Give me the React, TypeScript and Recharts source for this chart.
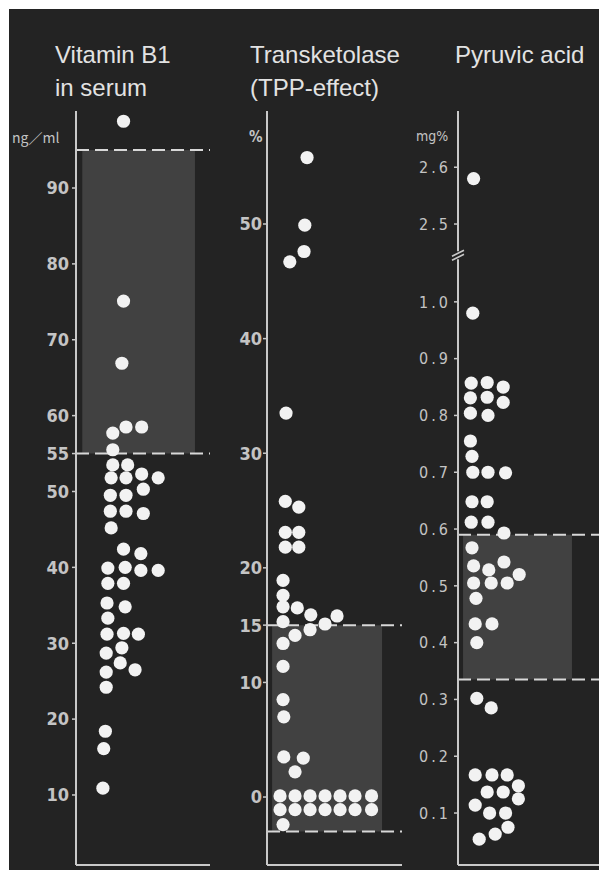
import {
  ScatterChart,
  Scatter,
  XAxis,
  YAxis,
  ReferenceArea,
  ReferenceLine,
  ReferenceDot,
} from "recharts";

// Vitamin B1 in serum (ng/ml)
const B1_VALUES = [
  98.8, 75.1, 66.9, 58.5, 58.5, 57.7, 55.5, 53.5, 53.5, 52.3, 51.8, 51.8, 51.8, 50.3, 49.5,
  49.5, 47.4, 47.4, 47.1, 45.2, 42.4, 41.8, 40.0, 39.9, 39.6, 39.6, 37.9, 37.9, 35.3, 34.8,
  33.3, 31.3, 31.2, 31.2, 29.4, 28.7, 27.4, 26.5, 26.2, 24.2, 18.4, 16.1, 10.9,
];
const B1_COLUMNS = [
  1, 1, 0.9, 1.15, 2.1, 0.35, 0.35, 0.35, 1.25, 2.1, 0.25, 1.15, 3.1, 2.2, 0.2,
  1.15, 0.2, 1.15, 2.2, 0.25, 1, 2.05, 1.1, 0.05, 2.05, 3.1, 0.05, 1, 0, 1.1,
  0.05, 1, 0, 1.9, 0.9, -0.05, 0.8, 1.7, -0.05, -0.05, -0.1, -0.2, -0.25,
];
const B1_TICKS = [10, 20, 30, 40, 50, 55, 60, 70, 80, 90];
const B1_NORMAL = [55, 95];

// Transketolase, TPP-effect (%)
const TK_VALUES = [
  55.8, 49.9, 47.6, 46.7, 33.5, 25.8, 25.3, 23.1, 23.1, 21.8, 21.8, 18.9, 17.6, 16.6, 16.5,
  15.9, 15.8, 15.3, 15.1, 14.6, 14.1, 13.4, 11.4, 8.5, 7.0, 3.5, 3.4, 2.2,
  0.1, 0.1, 0.1, 0.1, 0.1, 0.1, 0.1,
  -1.1, -1.1, -1.1, -1.1, -1.1, -1.1, -1.1,
  -2.4,
];
const TK_COLUMNS = [
  1.6, 1.45, 1.4, 0.45, 0.2, 0.15, 1.05, 0.15, 1.05, 0.15, 1.05, 0, 0, 0, 0.95,
  1.85, 3.6, 0, 2.8, 1.8, 0.8, 0, 0, 0, 0.05, 0.05, 1.35, 0.8,
  -0.2, 0.8, 1.8, 2.8, 3.8, 4.8, 5.9,
  -0.2, 0.8, 1.8, 2.8, 3.8, 4.8, 5.9,
  0,
];
const TK_TICKS = [0, 10, 15, 20, 30, 40, 50];
const TK_NORMAL = [-3, 15];

// Pyruvic acid (mg%)
const PY_VALUES = [
  2.58, 0.98, 0.857, 0.858, 0.85, 0.831, 0.832, 0.823, 0.804, 0.8, 0.755, 0.728, 0.7, 0.7, 0.699,
  0.648, 0.648, 0.612, 0.612, 0.593, 0.567, 0.542, 0.535, 0.528, 0.52, 0.505, 0.505, 0.505,
  0.478, 0.433, 0.433, 0.4, 0.302, 0.285, 0.167, 0.167, 0.167, 0.148, 0.137, 0.137, 0.125,
  0.114, 0.1, 0.1, 0.075, 0.063, 0.054,
];
const PY_COLUMNS = [
  0.1, 0.05, -0.05, 0.95, 1.95, -0.1, 0.95, 1.95, -0.1, 1, -0.1, 0, 0.05, 1, 2.1,
  0, 0.95, -0.05, 1, 2, 0, 2, 0.1, 1.05, 2.95, 0.1, 1.2, 2.2,
  0.25, 0.2, 1.25, 0.3, 0.3, 1.2, 0.2, 1.25, 2.2, 2.9, 0.95, 1.95, 2.9,
  0.2, 1.1, 2.1, 2.25, 1.45, 0.45,
];
const PY_TICKS = [0.1, 0.2, 0.3, 0.4, 0.5, 0.6, 0.7, 0.8, 0.9, 1.0, 2.5, 2.6];
const PY_NORMAL = [0.335, 0.59];
const PY_BREAK_AT = 2;
const PY_BREAK_SHIFT = 1.363;

const BG = "#232323";
const AXIS = "#c9c9c9";
const TICK_TEXT = "#c4c4c4";
const DOT = "#f2f2f2";
const BOX = "#414141";
const DASH = "#d8d8d8";
const TICK_FONT = "'DejaVu Sans Condensed', 'DejaVu Sans', sans-serif";
const TITLE_FONT = "'Liberation Sans', Arial, sans-serif";

function toPoints(values: number[], cols: number[], shift?: (v: number) => number) {
  return values.map((v, i) => ({ x: cols[i], y: shift ? shift(v) : v }));
}

const pyShift = (v: number) => (v > PY_BREAK_AT ? v - PY_BREAK_SHIFT : v);
const pyUnshift = (v: number) => (v > 1.1 ? v + PY_BREAK_SHIFT : v);

const Dot = (p: any) => <circle cx={p.cx} cy={p.cy} r={6.6} fill={DOT} />;

const BreakMark = (p: any) => (
  <g>
    <rect x={p.cx - 3} y={p.cy - 4} width={6} height={8} fill={BG} />
    <line x1={p.cx - 6} y1={p.cy + 1} x2={p.cx + 6} y2={p.cy - 5} stroke={AXIS} strokeWidth={1.6} />
    <line x1={p.cx - 6} y1={p.cy + 5} x2={p.cx + 6} y2={p.cy - 1} stroke={AXIS} strokeWidth={1.6} />
  </g>
);

type PanelProps = {
  left: number;
  width: number;
  right: number;
  data: { x: number; y: number }[];
  xDomain: [number, number];
  yDomain: [number, number];
  ticks: number[];
  normal: number[];
  box: [number, number];
  tickMargin: number;
  tickFontSize: number;
  tickWeight: number;
  letterSpacing?: number;
  format?: (v: number) => string;
  breakY?: number;
};

function Panel(p: PanelProps) {
  return (
    <div style={{ position: "absolute", left: p.left, top: 0 }}>
      <ScatterChart width={p.width} height={870} margin={{ top: 111, right: p.right, bottom: 4, left: 0 }}>
        <XAxis
          type="number"
          dataKey="x"
          domain={p.xDomain}
          allowDataOverflow
          tick={false}
          tickLine={false}
          height={1}
          axisLine={{ stroke: AXIS, strokeWidth: 2 }}
        />
        <YAxis
          type="number"
          dataKey="y"
          domain={p.yDomain}
          allowDataOverflow
          ticks={p.ticks}
          interval={0}
          width={76}
          tickSize={4}
          tickMargin={p.tickMargin}
          tickFormatter={p.format}
          axisLine={{ stroke: AXIS, strokeWidth: 2 }}
          tickLine={{ stroke: AXIS, strokeWidth: 1.5 }}
          tick={{
            fill: TICK_TEXT,
            fontSize: p.tickFontSize,
            fontFamily: TICK_FONT,
            fontWeight: p.tickWeight,
            letterSpacing: p.letterSpacing ?? 0,
          }}
        />
        <ReferenceArea
          x1={p.box[0]}
          x2={p.box[1]}
          y1={p.normal[0]}
          y2={p.normal[1]}
          fill={BOX}
          fillOpacity={1}
          stroke="none"
        />
        <ReferenceLine y={p.normal[0]} stroke={DASH} strokeWidth={2} strokeDasharray="13 6" />
        <ReferenceLine y={p.normal[1]} stroke={DASH} strokeWidth={2} strokeDasharray="13 6" />
        {p.breakY !== undefined && (
          <ReferenceDot x={p.xDomain[0]} y={p.breakY} shape={BreakMark} />
        )}
        <Scatter data={p.data} shape={Dot} isAnimationActive={false} />
      </ScatterChart>
    </div>
  );
}

const titleStyle: React.CSSProperties = {
  position: "absolute",
  top: 38,
  color: "#e2e2e2",
  fontFamily: TITLE_FONT,
  fontSize: 24,
  lineHeight: "33px",
  whiteSpace: "nowrap",
};

const unitStyle: React.CSSProperties = {
  position: "absolute",
  color: TICK_TEXT,
  fontFamily: TICK_FONT,
  fontSize: 14,
  whiteSpace: "nowrap",
};

export default function App() {
  const b1 = toPoints(B1_VALUES, B1_COLUMNS);
  const tk = toPoints(TK_VALUES, TK_COLUMNS);
  const py = toPoints(PY_VALUES, PY_COLUMNS, pyShift);
  const pyTicks = PY_TICKS.map(pyShift);

  return (
    <div style={{ position: "fixed", left: 0, top: 0, width: 599, height: 870, background: "#fff", overflow: "hidden" }}>
      <div style={{ position: "absolute", left: 9, top: 9, width: 590, height: 861, background: BG }} />

      <div style={{ ...titleStyle, left: 55 }}>Vitamin B1<br />in serum</div>
      <div style={{ ...titleStyle, left: 250 }}>Transketolase<br />(TPP-effect)</div>
      <div style={{ ...titleStyle, left: 455 }}>Pyruvic acid</div>

      <div style={{ ...unitStyle, left: 12, top: 127, fontFamily: "'Noto Sans CJK JP', " + TICK_FONT }}>ng／ml</div>
      <div style={{ ...unitStyle, left: 249, top: 128, fontSize: 15, fontWeight: 600 }}>%</div>
      <div style={{ ...unitStyle, left: 416, top: 128 }}>mg%</div>

      <Panel
        left={0}
        width={215}
        right={5}
        data={b1}
        xDomain={[-1.88, 6.24]}
        yDomain={[0.77, 100.15]}
        ticks={B1_TICKS}
        normal={B1_NORMAL}
        box={[-1.5, 5.33]}
        tickMargin={3}
        tickFontSize={18}
        tickWeight={600}
      />
      <Panel
        left={191}
        width={216}
        right={5}
        data={tk}
        xDomain={[-1.07, 7.93]}
        yDomain={[-5.93, 59.86]}
        ticks={TK_TICKS}
        normal={TK_NORMAL}
        box={[-0.73, 6.6]}
        tickMargin={1}
        tickFontSize={18}
        tickWeight={600}
      />
      <Panel
        left={382}
        width={217}
        right={0}
        data={py}
        xDomain={[-0.875, 7.94]}
        yDomain={[0.0085, 1.336]}
        ticks={pyTicks}
        normal={PY_NORMAL}
        box={[-0.56, 6.25]}
        tickMargin={3}
        tickFontSize={16}
        tickWeight={400}
        letterSpacing={3}
        format={(v: number) => pyUnshift(v).toFixed(1)}
        breakY={1.082}
      />
    </div>
  );
}
